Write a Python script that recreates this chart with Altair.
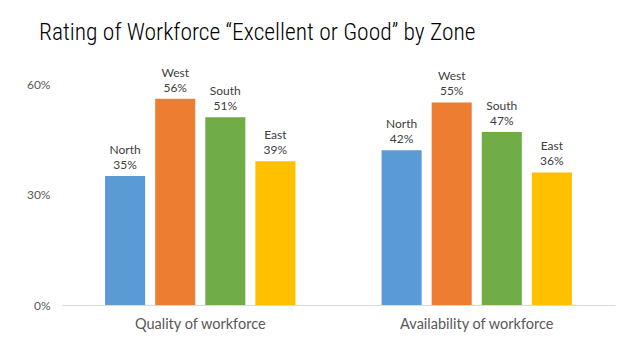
import altair as alt
import pandas as pd

groups = ["Quality of workforce", "Availability of workforce"]
zones = ["North", "West", "South", "East"]
quality = [0.35, 0.56, 0.51, 0.39]
availability = [0.42, 0.55, 0.47, 0.36]
colors = ["#5B9BD5", "#ED7D31", "#70AD47", "#FFC000"]
y_ticks = [0, 0.3, 0.6]

rows = []
for g, vals in zip(groups, [quality, availability]):
    for z, v in zip(zones, vals):
        rows.append({"group": g, "zone": z, "value": v,
                     "label": f"{z}\n{round(v * 100)}%"})
df = pd.DataFrame(rows)

FONT = "Lato"

x = alt.X("group:N", sort=groups, title=None,
          scale=alt.Scale(paddingInner=0, paddingOuter=0),
          axis=alt.Axis(labelAngle=0, ticks=False, domainColor="#D9D9D9",
                        labelColor="#595959", labelFontSize=14.5, labelFont=FONT,
                        labelPadding=12))
xo = alt.XOffset("zone:N", sort=zones,
                 scale=alt.Scale(paddingInner=0.2, paddingOuter=0.86))
y = alt.Y("value:Q", title=None,
          scale=alt.Scale(domain=[0, 0.6], nice=False),
          axis=alt.Axis(values=y_ticks, format=".0%", grid=False, domain=False,
                        ticks=False, labelColor="#595959", labelFontSize=12,
                        labelFont=FONT, labelPadding=12))

bars = alt.Chart(df).mark_bar().encode(
    x=x, xOffset=xo, y=y,
    color=alt.Color("zone:N", sort=zones,
                    scale=alt.Scale(domain=zones, range=colors), legend=None),
)

labels = alt.Chart(df).mark_text(
    baseline="bottom", dy=-19, lineBreak="\n", lineHeight=15,
    fontSize=12, font=FONT, color="#404040", clip=False
).encode(x=x, xOffset=xo, y=y, text="label:N")

chart = alt.layer(bars, labels).properties(
    width=553, height=221,
    autosize=alt.AutoSizeParams(type="none"),
    padding={"left": 54, "top": 76, "right": 17, "bottom": 40},
    title=alt.TitleParams(
        "Rating of Workforce “Excellent or Good” by Zone",
        anchor="start", frame="group", dx=-23, offset=22,
        font="Roboto Condensed, Liberation Sans Narrow, Roboto", fontSize=23.5,
        fontWeight=300, color="#000000",
    ),
).configure_view(stroke=None)

chart.save("out.html", embed_options={"renderer": "svg", "actions": False})
